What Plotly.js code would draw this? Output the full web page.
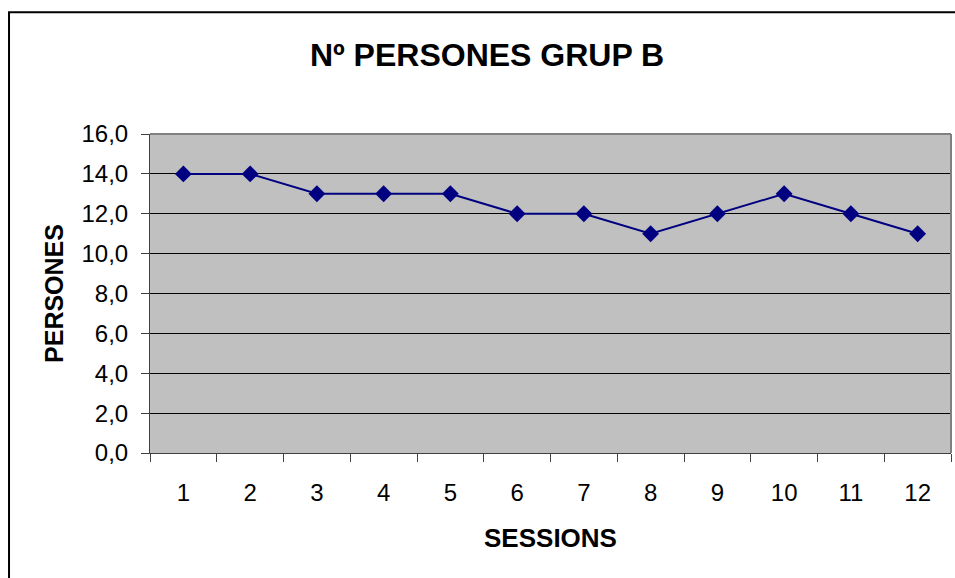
<!DOCTYPE html>
<html><head><meta charset="utf-8">
<script src="https://cdn.plot.ly/plotly-3.0.1.min.js"></script>
<style>body{margin:0;background:#fff}#c{width:955px;height:578px}</style>
</head><body><div id="c"></div>
<script>
const sessions = ['1','2','3','4','5','6','7','8','9','10','11','12'];
const persones = [14,14,13,13,13,12,12,11,12,13,12,11];
const yTicks = [0,2,4,6,8,10,12,14,16];

const font = 'Liberation Sans, Arial, sans-serif';
Plotly.newPlot('c', [{
  x: sessions, y: persones, type: 'scatter', mode: 'lines+markers',
  line: {color: '#000080', width: 2},
  marker: {symbol: 'diamond', size: 13, color: '#000080'}
}], {
  width: 955, height: 578,
  margin: {l: 150, r: 4, t: 134, b: 125},
  paper_bgcolor: '#fff', plot_bgcolor: '#c0c0c0',
  showlegend: false,
  separators: ',.',
  font: {family: font, color: '#000', size: 24},
  title: {text: '<b>Nº PERSONES GRUP B</b>', x: 0.51, xanchor: 'center', y: 0.905, yanchor: 'middle', font: {size: 32, family: font}},
  xaxis: {
    type: 'category', range: [-0.5, 11.5], tickson: 'boundaries', ticks: 'outside', ticklen: 8, tickcolor: '#404040',
    showline: true, linecolor: '#404040', mirror: false, showgrid: false,
    ticklabelstandoff: 18, tickfont: {size: 24},
    title: {text: '<b>SESSIONS</b>', font: {size: 26}, standoff: 24}
  },
  yaxis: {
    range: [0, 16], tickvals: yTicks, tickformat: '.1f', ticks: 'outside', ticklen: 8, tickcolor: '#404040',
    showline: true, linecolor: '#404040', gridcolor: '#000', gridwidth: 1, zeroline: false,
    ticklabelstandoff: 8, tickfont: {size: 24},
    title: {text: '<b>PERSONES</b>', font: {size: 25}, standoff: 10}
  },
  shapes: [
    {type: 'line', xref: 'paper', yref: 'paper', x0: 0, x1: 1, y0: 1, y1: 1, line: {color: '#808080', width: 2}},
    {type: 'line', xref: 'paper', yref: 'paper', x0: 1, x1: 1, y0: 0, y1: 1, line: {color: '#808080', width: 2}},
    {type: 'rect', xref: 'paper', yref: 'paper', x0: -0.176, x1: 1.3, y0: -0.6, y1: 1.382, line: {color: '#000', width: 2}, layer: 'below'}
  ]
}, {displayModeBar: false});
</script></body></html>
